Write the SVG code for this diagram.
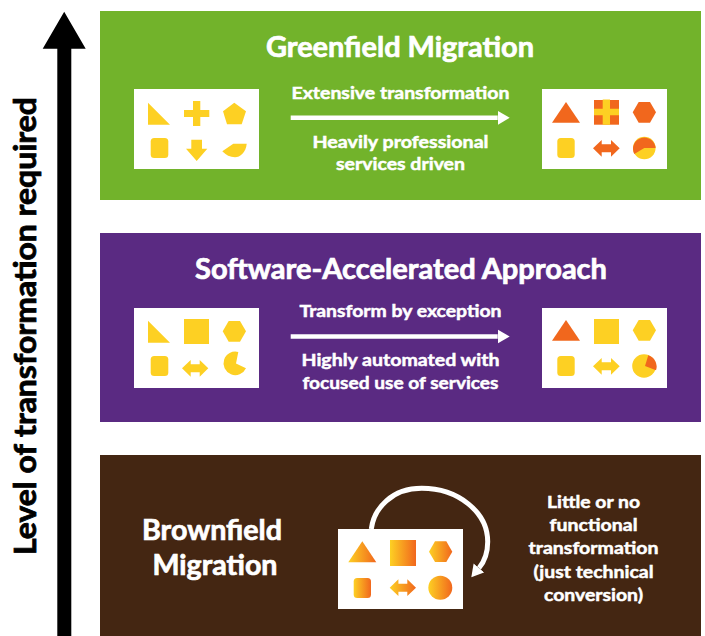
<svg xmlns="http://www.w3.org/2000/svg" width="705" height="636" viewBox="0 0 705 636">
<style>
text{font-family:Lato,"Open Sans","Liberation Sans",sans-serif;font-weight:700;fill:#fff;text-anchor:middle;stroke:#fff;stroke-width:.5px}
.t{font-size:28px;stroke-width:.7px}.s{font-size:17.500px}.y{fill:#FDD023}.o{fill:#F1671D}.g{fill:url(#gr)}.w{fill:#fff}
</style>
<defs>
<linearGradient id="gr"><stop offset="0" stop-color="#FDD023"/><stop offset="1" stop-color="#F1671D"/></linearGradient>
<marker id="ah" markerUnits="userSpaceOnUse" markerWidth="13" markerHeight="15" refX="0" refY="7.500" orient="auto"><path d="M0 .5L12 7.500L0 14.500Z" fill="#fff"/></marker>
</defs>
<rect width="705" height="636" fill="#fff"/>
<g id="axis"><path d="M57.300 636V48.700H42.700L64.200 11.700L85.700 48.700H71.300V636Z" fill="#000"/><text transform="translate(36 326) rotate(-90)" style="font-size:30px;fill:#000;stroke:#000;stroke-width:.8px" textLength="458" lengthAdjust="spacingAndGlyphs">Level of transformation required</text></g>
<g id="greenfield">
<rect x="100" y="11" width="601" height="189" fill="#72B32B"/>
<text class="t" x="400" y="56.500" textLength="268" lengthAdjust="spacingAndGlyphs">Greenfield Migration</text>
<text class="s" x="400.500" y="98.800" textLength="218" lengthAdjust="spacingAndGlyphs">Extensive transformation</text>
<text class="s" x="400.500" y="147.700" textLength="176" lengthAdjust="spacingAndGlyphs">Heavily professional</text>
<text class="s" x="400.500" y="170" textLength="129" lengthAdjust="spacingAndGlyphs">services driven</text>
</g>
<g id="greenfield-before">
<rect x="134" y="89" width="125" height="80" class="w"/>
<path class="y" d="M148 102.700V124.700H170Z"/>
<path class="y" d="M193 101H200.300V110H209.300V117H200.300V126H193V117H184V110H193Z"/>
<path class="y" d="M234.300 102.700L246 111.300L241.700 124.300H227L223 111.300Z"/>
<rect class="y" x="150.700" y="138" width="17.600" height="20" rx="3.500"/>
<path class="y" d="M191.300 139.700H202V148.700H207.300L196.700 161L186 148.700H191.300Z"/>
<path class="y" d="M222.300 151.300L233.300 143.700H246.700C246 152 240 157.300 235 157.300C230 157.300 226 155 222.300 151.300Z"/>
</g>
<g id="greenfield-after">
<rect x="542" y="89" width="125" height="80" class="w"/>
<path class="o" d="M566 102L580 122.700H552Z"/>
<rect class="o" x="594" y="100" width="25" height="24.700"/>
<path class="y" d="M602.700 99.500H610V108.700H619V115.300H610V124.700H602.700V115.300H594V108.700H602.700Z"/>
<path class="o" d="M638.700 102H650L656 112.300L650 122.700H638.700L632.700 112.300Z"/>
<rect class="y" x="557.300" y="138" width="17.400" height="20" rx="3.500"/>
<path class="o" d="M593 148.300L601.700 140V144.300H611V140L619.700 148.300L611 156.700V152.300H601.700V156.700Z"/>
<circle class="y" cx="644.300" cy="148" r="11.300"/>
<path class="o" d="M644.300 148H655.600A11.300 11.300 0 1 0 634.300 154Z"/>
</g>
<g id="software">
<rect x="100" y="233" width="601" height="189" fill="#5A2A82"/>
<text class="t" x="401" y="279" textLength="412" lengthAdjust="spacingAndGlyphs">Software-Accelerated Approach</text>
<text class="s" x="400.500" y="317" textLength="202" lengthAdjust="spacingAndGlyphs">Transform by exception</text>
<text class="s" x="400.500" y="366" textLength="198" lengthAdjust="spacingAndGlyphs">Highly automated with</text>
<text class="s" x="400.500" y="389" textLength="196" lengthAdjust="spacingAndGlyphs">focused use of services</text>
</g>
<g id="software-before">
<rect x="134" y="308" width="125" height="80" class="w"/>
<path class="y" d="M148 320.700V342.700H170Z"/>
<rect class="y" x="184" y="319" width="25" height="25"/>
<path class="y" d="M228.700 321H240L246 331.300L240 341.700H228.700L222.700 331.300Z"/>
<rect class="y" x="150.700" y="356" width="17.600" height="20" rx="3.500"/>
<path class="y" d="M182 368.300L190.700 360V364.300H199.700V360L208.300 368.300L199.700 376.700V372.300H190.700V376.700Z"/>
<path class="y" d="M236 363.500L238.300 351.900A11.800 11.800 0 1 0 246 368.300Z"/>
</g>
<g id="software-after">
<rect x="542" y="308" width="125" height="80" class="w"/>
<path class="o" d="M566 320L580 340.700H552Z"/>
<rect class="y" x="594" y="319" width="25" height="25"/>
<path class="y" d="M638.700 320H650L656 330.300L650 340.700H638.700L632.700 330.300Z"/>
<rect class="y" x="557.300" y="356" width="17.400" height="20" rx="3.500"/>
<path class="y" d="M593 366.300L601.700 358V362.300H611V358L619.700 366.300L611 374.700V370.300H601.700V374.700Z"/>
<circle class="y" cx="644" cy="366" r="11.800"/>
<path class="o" d="M645 366L648.300 355.300A11.800 11.800 0 0 1 656 370.300Z"/>
</g>
<g id="brownfield">
<rect x="100" y="455" width="601" height="181" fill="#442612"/>
<text x="212" y="540" style="font-size:28px;stroke-width:.7px" textLength="140" lengthAdjust="spacingAndGlyphs">Brownfield</text>
<text x="215" y="575" style="font-size:28px;stroke-width:.7px" textLength="125" lengthAdjust="spacingAndGlyphs">Migration</text>
<text class="s" x="593.500" y="507.700" textLength="93" lengthAdjust="spacingAndGlyphs">Little or no</text>
<text class="s" x="593.500" y="530.700" textLength="88" lengthAdjust="spacingAndGlyphs">functional</text>
<text class="s" x="593.500" y="554.300" textLength="130" lengthAdjust="spacingAndGlyphs">transformation</text>
<text class="s" x="593.500" y="577.700" textLength="120" lengthAdjust="spacingAndGlyphs">(just technical</text>
<text class="s" x="593.500" y="600.700" textLength="99" lengthAdjust="spacingAndGlyphs">conversion)</text>
</g>
<g id="brownfield-card">
<rect x="338" y="529" width="125" height="80" class="w"/>
<path class="g" d="M362.300 541.300L376.300 562.300H348.300Z"/>
<rect class="g" x="390" y="540" width="26" height="26"/>
<path class="g" d="M435 541.300H446.300L452.300 551.700L446.300 562H435L429 551.700Z"/>
<rect class="g" x="353.700" y="578" width="17.300" height="20" rx="3.500"/>
<path class="g" d="M389.700 587.700L398.400 579.300V583.700H407.300V579.300L416 587.700L407.300 596V591.700H398.400V596Z"/>
<circle class="g" cx="440.300" cy="587.700" r="12"/>
</g>
<g id="connectors" fill="none" stroke="#fff">
<path d="M290.700 117.800H497.700" stroke-width="4.500" marker-end="url(#ah)"/>
<path d="M290.700 336.500H497.700" stroke-width="4.500" marker-end="url(#ah)"/>
<path d="M371.300 529C374 508 392 488.300 421.700 488.300C458 488.300 487.700 512 487.700 541.700C487.700 552 484 562 479 568" stroke-width="5" marker-end="url(#ah)"/>
</g>
</svg>
